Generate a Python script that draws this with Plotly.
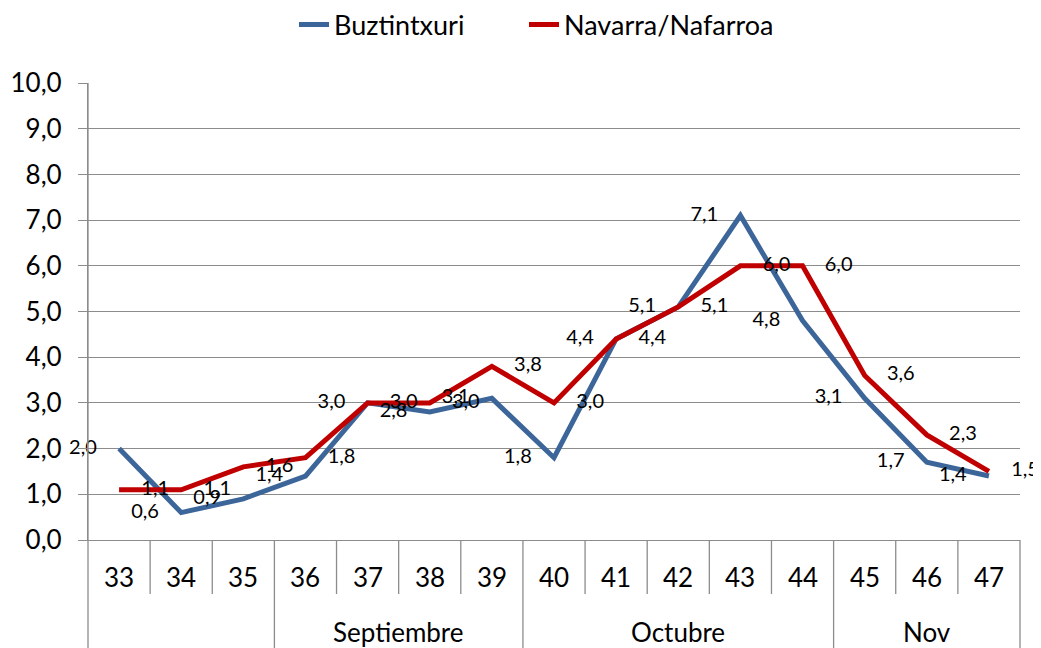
import plotly.graph_objects as go

weeks = ["33", "34", "35", "36", "37", "38", "39", "40", "41", "42", "43", "44", "45", "46", "47"]
months = ["", "", "", "Septiembre", "Septiembre", "Septiembre", "Septiembre",
          "Octubre", "Octubre", "Octubre", "Octubre", "Octubre", "Nov", "Nov", "Nov"]
buztintxuri = [2.0, 0.6, 0.9, 1.4, 3.0, 2.8, 3.1, 1.8, 4.4, 5.1, 7.1, 4.8, 3.1, 1.7, 1.4]
navarra = [1.1, 1.1, 1.6, 1.8, 3.0, 3.0, 3.8, 3.0, 4.4, 5.1, 6.0, 6.0, 3.6, 2.3, 1.5]
yticks = [0, 1, 2, 3, 4, 5, 6, 7, 8, 9, 10]

BLUE = "#3C6699"
RED = "#C00000"
GRID = "#8C8C8C"
FONT = "Lato"

# page body adds an 8px margin, so the figure is drawn 8px smaller
W, H = 1033, 640
ML, MR, MT, MB = 80, 21, 75, 108
PH = H - MT - MB
BOTTOM = H - MB

def fmt(v):
    return f"{v:.1f}".replace(".", ",")

fig = go.Figure()
fig.add_trace(go.Scatter(x=weeks, y=buztintxuri, mode="lines", name="Buztintxuri",
                         line=dict(color=BLUE, width=5), hoverinfo="skip", legend="legend"))
fig.add_trace(go.Scatter(x=weeks, y=navarra, mode="lines", name="Navarra/Nafarroa",
                         line=dict(color=RED, width=5), hoverinfo="skip", legend="legend2"))
fig.add_trace(go.Scatter(x=weeks, y=buztintxuri, mode="markers+text", showlegend=False,
                         marker=dict(size=34, color="rgba(0,0,0,0)"), cliponaxis=False,
                         text=[fmt(v) for v in buztintxuri], textposition="middle left",
                         textfont=dict(family=FONT, size=20, color="black"), hoverinfo="skip"))
fig.add_trace(go.Scatter(x=weeks, y=navarra, mode="markers+text", showlegend=False,
                         marker=dict(size=34, color="rgba(0,0,0,0)"), cliponaxis=False,
                         text=[fmt(v) for v in navarra], textposition="middle right",
                         textfont=dict(family=FONT, size=20, color="black"), hoverinfo="skip"))

shapes = []
annotations = []
week_sep = -54 / PH
month_sep = -MB / PH
for i in range(1, len(weeks)):
    is_month_break = months[i] != months[i - 1]
    shapes.append(dict(type="line", xref="x", yref="paper", x0=i - 0.5, x1=i - 0.5,
                       y0=0, y1=month_sep if is_month_break else week_sep,
                       line=dict(color=GRID, width=1.3)))
for xp in (0, 1):
    shapes.append(dict(type="line", xref="paper", yref="paper", x0=xp, x1=xp,
                       y0=1 if xp == 0 else 0, y1=month_sep,
                       line=dict(color=GRID, width=1.3)))

for i, w in enumerate(weeks):
    annotations.append(dict(x=i, y=(BOTTOM - 569) / PH, xref="x", yref="paper",
                            text=w, showarrow=False, yanchor="middle",
                            font=dict(family=FONT, size=26, color="black")))
start = 0
for i in range(1, len(months) + 1):
    if i == len(months) or months[i] != months[start]:
        if months[start]:
            annotations.append(dict(x=(start + i - 1) / 2, y=(BOTTOM - 624) / PH,
                                    xref="x", yref="paper", text=months[start],
                                    showarrow=False, yanchor="middle",
                                    font=dict(family=FONT, size=26, color="black")))
        start = i

legend_common = dict(orientation="h", xref="container", yref="container",
                     xanchor="left", y=1 - 17 / H, yanchor="middle",
                     font=dict(family=FONT, size=27, color="black"))

fig.update_layout(
    width=W, height=H,
    margin=dict(l=ML, r=MR, t=MT, b=MB, autoexpand=False),
    paper_bgcolor="white", plot_bgcolor="white",
    separators=",.",
    font=dict(family=FONT, size=26, color="black"),
    hovermode=False,
    showlegend=True,
    legend=dict(x=286 / W, **legend_common),
    legend2=dict(x=516 / W, **legend_common),
    shapes=shapes,
    annotations=annotations,
    xaxis=dict(type="category", categoryorder="array", categoryarray=weeks,
               range=[-0.5, len(weeks) - 0.5], showgrid=False, zeroline=False,
               showticklabels=False, ticks="", showline=True, linecolor=GRID,
               linewidth=1.3, automargin=False),
    yaxis=dict(range=[0, 10], tickvals=yticks, tickformat=".1f", showgrid=True,
               gridcolor=GRID, gridwidth=1.3, zeroline=False, showline=True,
               linecolor=GRID, linewidth=1.3, ticks="outside", ticklen=9,
               tickcolor=GRID, tickwidth=1.3, ticklabelstandoff=11, automargin=False,
               tickfont=dict(family=FONT, size=26, color="black")),
)

fig.write_html("out.html")
